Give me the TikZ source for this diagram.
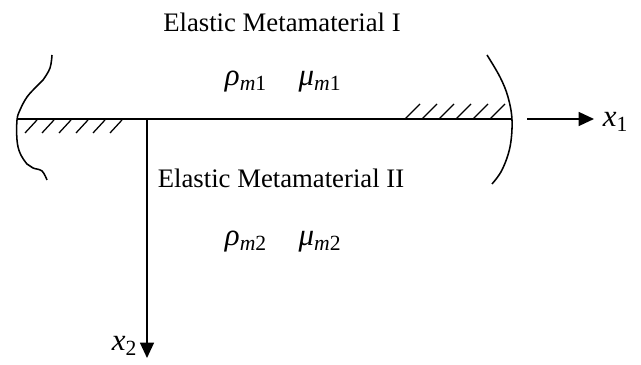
\documentclass[tikz,border=0pt]{standalone}
\usepackage{fontspec}
\setmainfont{Liberation Serif}
\usetikzlibrary{arrows.meta, positioning}

\newcommand{\symsub}[2]{\textit{#1}\textsubscript{\textit{m}#2}}

\begin{document}
\begin{tikzpicture}[
x=0.025cm, y=-0.025cm,
line width=1.1pt,
label/.style={inner sep=0pt, font=\fontsize{19}{23}\selectfont},
sym/.style={inner sep=0pt, font=\fontsize{22}{26}\selectfont},
axis/.style={-{Triangle[length=11pt, width=10pt]}},
hatch/.style={line width=0.9pt}
]
\useasboundingbox (0,0) rectangle (641,365);

% texts
\node[label] (top) at (282,22) {Elastic Metamaterial I};
\node[label] (bottom) at (281,178) {Elastic Metamaterial II};
\node[sym] (rho1) at (246,82) {\symsub{ρ}{1}};
\node[sym] (mu1) at (320,82) {\symsub{μ}{1}};
\node[sym] (rho2) at (246,242) {\symsub{ρ}{2}};
\node[sym] (mu2) at (320,242) {\symsub{μ}{2}};

% interface
\coordinate (left) at (17,119);
\coordinate (right) at (512,119);
\draw (left) -- (right);

% left edge
\draw plot[smooth, tension=0.6] coordinates {(52,55) (50,68) (43,80) (37,86) (27,97) (20,110) (17,120) (17,140) (20,153) (27,164) (33,168) (42,171) (47,180)};

% right edge
\draw plot[smooth, tension=0.6] coordinates {(487,55) (500,77) (508,97) (512,120) (510,147) (502,170) (492,184)};

% hatching
\foreach \i in {0,...,5} {
  \draw[hatch] (25+17*\i,133) -- (37+17*\i,120);
  \draw[hatch] (405+17*\i,119) -- (420+17*\i,104);
}

% axes
\coordinate (o) at (147,119);
\coordinate (x2end) at (147,358);
\draw[axis] (o) -- (x2end);
\node[sym, anchor=east] (x2) at (138,346) {\textit{x}\textsubscript{2}};

\coordinate (x1start) at (527,119);
\coordinate (x1end) at (594,119);
\draw[axis] (x1start) -- (x1end);
\node[sym, anchor=west] (x1) at (602,122) {\textit{x}\textsubscript{1}};

\end{tikzpicture}
\end{document}
